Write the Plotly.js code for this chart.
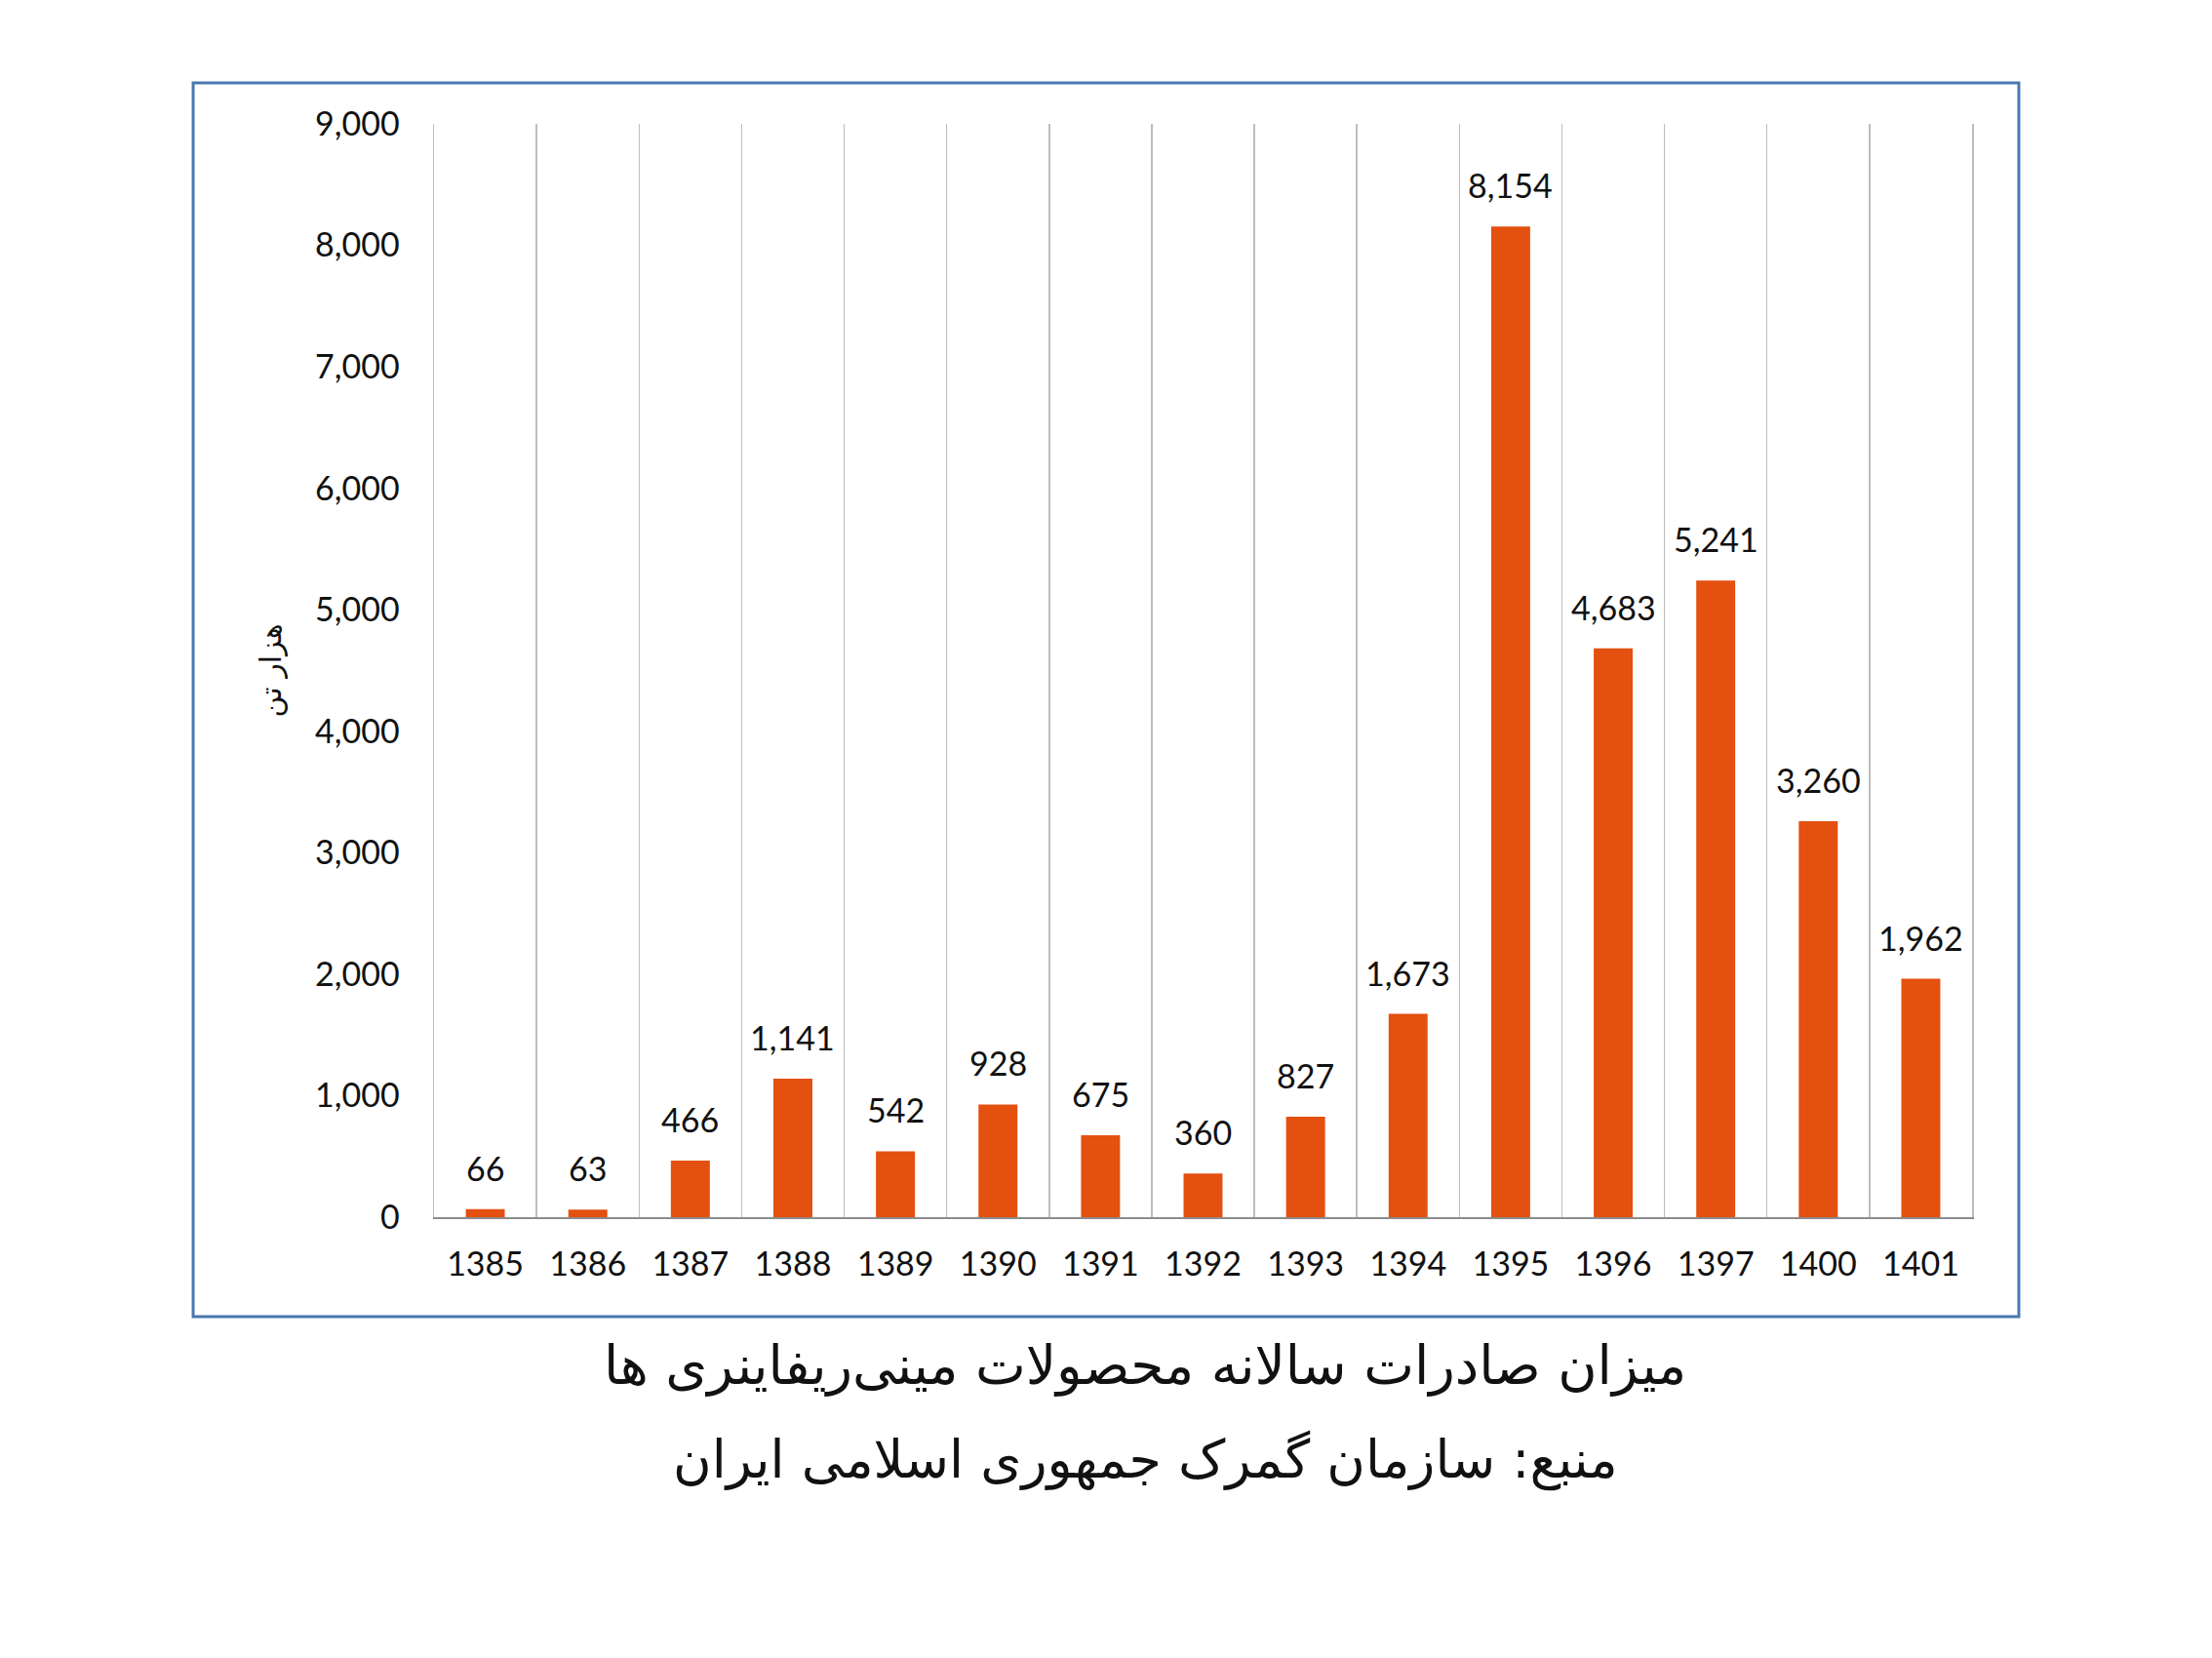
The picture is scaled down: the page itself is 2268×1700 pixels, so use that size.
<!DOCTYPE html>
<html>
<head>
<meta charset="utf-8">
<script src="https://cdn.plot.ly/plotly-3.0.1.min.js"></script>
<style>html,body{margin:0;padding:0;background:#fff;}</style>
</head>
<body>
<div id="chart" style="width:2268px;height:1700px;"></div>
<script>
const years = ["1385","1386","1387","1388","1389","1390","1391","1392","1393","1394","1395","1396","1397","1400","1401"];
const exportsKt = [66, 63, 466, 1141, 542, 928, 675, 360, 827, 1673, 8154, 4683, 5241, 3260, 1962];
const yTickVals = [0,1000,2000,3000,4000,5000,6000,7000,8000,9000];
const yTickText = ["0","1,000","2,000","3,000","4,000","5,000","6,000","7,000","8,000","9,000"];
const titleLine1 = "میزان صادرات سالانه محصولات مینی‌ریفاینری ها";
const titleLine2 = "منبع: سازمان گمرک جمهوری اسلامی ایران";
const yTitle = "هزار تن";

const labelFont = {family: "Lato, 'Open Sans', sans-serif", size: 34, color: "#111111"};

const labels = years.map((y, i) => ({
  x: i, y: exportsKt[i], xref: "x", yref: "y",
  text: exportsKt[i].toLocaleString("en-US"),
  showarrow: false, yanchor: "bottom", yshift: 20,
  font: labelFont
}));

const trace = {
  type: "bar", x: years, y: exportsKt,
  marker: {color: "#E3500F"},
  hoverinfo: "x+y"
};

const layout = {
  width: 2268, height: 1700,
  margin: {l: 445, r: 246, t: 127, b: 452},
  paper_bgcolor: "#ffffff", plot_bgcolor: "#ffffff",
  showlegend: false,
  bargap: 0.62,
  xaxis: {
    type: "category",
    range: [-0.5, years.length - 0.5],
    tickson: "boundaries",
    showgrid: true, gridcolor: "#BDBDBD", gridwidth: 1.5,
    ticks: "", showline: true, linecolor: "#8C8C8C", linewidth: 2,
    tickfont: labelFont, ticklabelstandoff: 17, tickangle: 0,
    zeroline: false
  },
  yaxis: {
    range: [0, 9000],
    tickvals: yTickVals, ticktext: yTickText,
    showgrid: false, zeroline: false,
    showline: true, linecolor: "#BDBDBD", linewidth: 1.5, mirror: true,
    ticks: "",
    tickfont: labelFont, ticklabelstandoff: 27,
    title: {text: yTitle, font: {family: "DejaVu Sans, sans-serif", size: 30, color: "#111111"}, standoff: 25}
  },
  annotations: labels.concat([
    {xref: "paper", yref: "paper", x: 0.4623, y: -0.1356, xanchor: "center", yanchor: "middle",
     text: titleLine1, showarrow: false, font: {family: "DejaVu Sans, sans-serif", size: 55, color: "#111"}},
    {xref: "paper", yref: "paper", x: 0.4623, y: -0.2221, xanchor: "center", yanchor: "middle",
     text: titleLine2, showarrow: false, font: {family: "DejaVu Sans, sans-serif", size: 54, color: "#111"}}
  ]),
  shapes: [
    {type: "rect", xref: "paper", yref: "paper", x0: -0.1566, x1: 1.0304, y0: -0.091, y1: 1.0375,
     line: {color: "#4A78B0", width: 3}, fillcolor: "rgba(0,0,0,0)", layer: "below"}
  ]
};

Plotly.newPlot("chart", [trace], layout, {displayModeBar: false, staticPlot: true});
</script>
</body>
</html>
